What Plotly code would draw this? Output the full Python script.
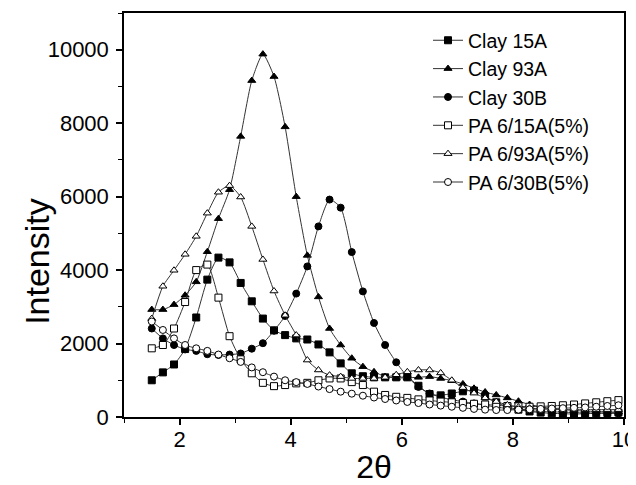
import plotly.graph_objects as go

two_theta = [1.5, 1.7, 1.9, 2.1, 2.3, 2.5, 2.7, 2.9, 3.1, 3.3, 3.5, 3.7, 3.9, 4.1, 4.3,
             4.5, 4.7, 4.9, 5.1, 5.3, 5.5, 5.7, 5.9, 6.1, 6.3, 6.5, 6.7, 6.9, 7.1, 7.3,
             7.5, 7.7, 7.9, 8.1, 8.3, 8.5, 8.7, 8.9, 9.1, 9.3, 9.5, 9.7, 9.9]

clay_15a = [1000, 1215, 1430, 1850, 2710, 3740, 4340, 4210, 3650, 3150, 2680, 2360, 2230, 2140, 2110,
            1975, 1760, 1460, 1190, 1110, 1080, 1080, 1080, 1080, 850, 625, 590, 640, 700, 720,
            560, 400, 280, 200, 150, 120, 100, 90, 80, 90, 100, 110, 120]

clay_93a = [2925, 2925, 3060, 3315, 3680, 4500, 5400, 6190, 7640, 9160, 9880, 9270, 7900, 6000, 4400,
            3270, 2410, 1960, 1600, 1370, 1230, 1100, 1060, 1070, 1080, 1100, 1050, 990, 900, 780,
            680, 600, 520, 430, 340, 280, 230, 200, 180, 160, 150, 140, 130]

clay_30b = [2410, 2140, 1960, 1840, 1800, 1710, 1690, 1700, 1730, 1860, 2010, 2350, 2750, 3360, 4100,
            5190, 5920, 5700, 4490, 3420, 2560, 1960, 1490, 1100, 820, 640, 540, 470, 420, 370,
            320, 270, 230, 200, 170, 150, 140, 130, 120, 110, 110, 100, 100]

pa6_15a = [1870, 1960, 2410, 3130, 4000, 4150, 3250, 2200, 1570, 1190, 930, 840, 870, 915, 930,
           1000, 1050, 1050, 950, 870, 690, 600, 550, 520, 480, 450, 420, 400, 380, 360,
           340, 320, 300, 290, 280, 290, 300, 320, 340, 370, 400, 430, 460]

pa6_93a = [2680, 3560, 3995, 4430, 4920, 5550, 6120, 6300, 5990, 5190, 4290, 3430, 2770, 2230, 1550,
           1280, 1140, 1100, 1050, 1050, 1050, 1080, 1150, 1230, 1280, 1280, 1200, 1000, 800, 650,
           520, 420, 330, 270, 240, 220, 210, 200, 200, 200, 200, 200, 200]

pa6_30b = [2600, 2370, 2140, 1960, 1870, 1800, 1700, 1600, 1500, 1350, 1220, 1100, 1000, 950, 900,
           830, 760, 690, 635, 580, 530, 490, 450, 410, 380, 340, 310, 280, 250, 220,
           200, 190, 190, 200, 210, 220, 230, 240, 250, 260, 280, 300, 320]

x_ticks = [2, 4, 6, 8, 10]
y_ticks = [0, 2000, 4000, 6000, 8000, 10000]
y_tick_labels = ["0", "2000", "4000", "6000", "8000", "10000"]

series = [
    ("Clay 15A", clay_15a, "square", "black"),
    ("Clay 93A", clay_93a, "triangle-up", "black"),
    ("Clay 30B", clay_30b, "circle", "black"),
    ("PA 6/15A(5%)", pa6_15a, "square", "white"),
    ("PA 6/93A(5%)", pa6_93a, "triangle-up", "white"),
    ("PA 6/30B(5%)", pa6_30b, "circle", "white"),
]

fig = go.Figure()
for name, vals, sym, fill in series:
    fig.add_trace(go.Scatter(
        x=two_theta, y=vals, name=name, mode="lines+markers",
        line=dict(color="#333333", width=1, shape="spline", smoothing=0.6),
        marker=dict(symbol=sym, size=7, color=fill, line=dict(color="black", width=1)),
    ))

font_family = "Liberation Sans, Arial"
axis_common = dict(
    showline=True, linecolor="black", linewidth=1.5, mirror=True,
    ticks="outside", ticklen=6, tickwidth=1.5, tickcolor="black",
    showgrid=False, zeroline=False, automargin=False, ticklabeloverflow="allow",
    tickfont=dict(family=font_family, size=22, color="black"),
)

fig.update_xaxes(range=[1, 10], tickvals=x_ticks, ticklabelstandoff=-4,
                 minor=dict(ticks="outside", ticklen=4, tickwidth=1.2, dtick=1, tick0=1,
                            tickcolor="black", showgrid=False),
                 title=dict(text="2θ", font=dict(family=font_family, size=32, color="black"), standoff=4),
                 **axis_common)
fig.update_yaxes(range=[0, 11000], tickvals=y_ticks, ticktext=y_tick_labels,
                 ticklabelstandoff=3,
                 minor=dict(ticks="outside", ticklen=4, tickwidth=1.2, dtick=1000, tick0=0,
                            tickcolor="black", showgrid=False),
                 **axis_common)

# y title placed as an annotation (it sits below the axis centre in the reference)
fig.add_annotation(text="Intensity", textangle=-90, xref="paper", yref="paper",
                   x=-0.174, y=0.384, xanchor="center", yanchor="middle", showarrow=False,
                   font=dict(family=font_family, size=34, color="black"))

# page body has an 8px default margin; size/margins compensate so the plot area
# lands at x 124-624, y 13-417 in the 636x485 window
fig.update_layout(
    width=636, height=477,
    margin=dict(l=116, r=20, t=5, b=68, autoexpand=False),
    plot_bgcolor="white", paper_bgcolor="white",
    legend=dict(x=0.608, y=0.98, xanchor="left", yanchor="top",
                bgcolor="rgba(0,0,0,0)", borderwidth=0,
                font=dict(family=font_family, size=19.5, color="black"),
                tracegroupgap=0, itemwidth=30),
    showlegend=True,
)

fig.write_html("out.html")
